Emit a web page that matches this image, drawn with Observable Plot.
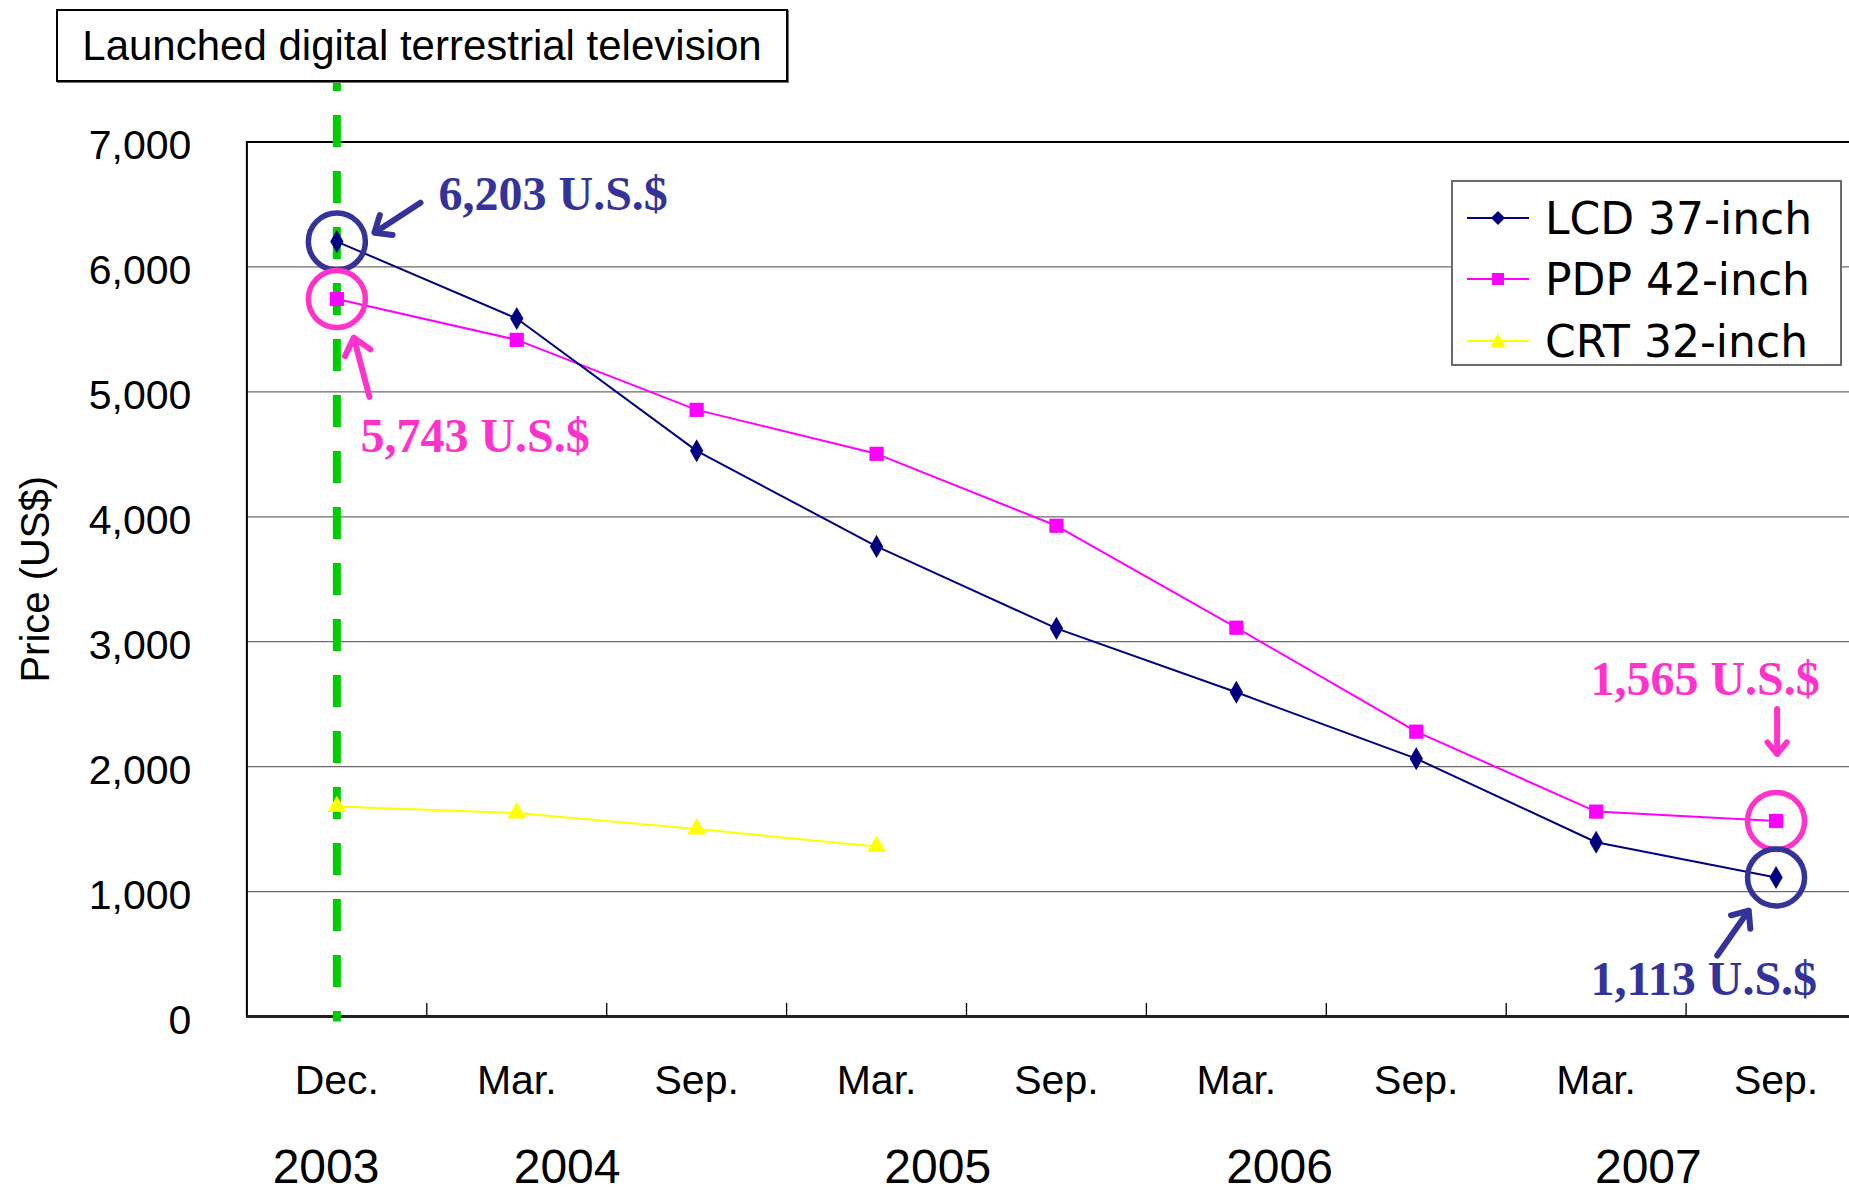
<!DOCTYPE html>
<html>
<head>
<meta charset="utf-8">
<script src="https://cdn.jsdelivr.net/npm/d3@7"></script>
<script src="https://cdn.jsdelivr.net/npm/@observablehq/plot@0.6"></script>
<style>
  html, body { margin: 0; padding: 0; background: #fff; overflow: hidden; }
  #wrap { position: relative; width: 1849px; height: 1190px; font-family: "Liberation Sans", Arial, sans-serif; }
  #chart { position: absolute; left: 0; top: 0; }
  #title {
    position: absolute; left: 56px; top: 9px; width: 728px; height: 69px;
    border: 2px solid #000; background: #fff; box-shadow: 1px 1px 0 #777;
    font-size: 42px; line-height: 69px; text-align: center; color: #000;
    font-family: "Liberation Sans", Arial, sans-serif; white-space: nowrap;
  }
  #legend {
    position: absolute; left: 1451px; top: 180px; width: 387px; height: 182px;
    border: 2px solid #6a6a6a; background: #fff;
  }
  .row { position: absolute; left: 0; height: 60px; display: flex; align-items: center; }
  .row svg { margin-left: 14px; }
  .row span { margin-left: 16px; font-family: "DejaVu Sans", sans-serif; font-size: 44px; color: #000; white-space: nowrap; }
</style>
</head>
<body>
<div id="wrap">
  <div id="chart"></div>
  <div id="title">Launched digital terrestrial television</div>
  <div id="legend"></div>
</div>
<script>
// ---- data ----
const months = ["Dec.", "Mar.", "Sep.", "Mar.", "Sep.", "Mar.", "Sep.", "Mar.", "Sep."];
const years = ["2003", "2004", "2005", "2006", "2007"];
const yearPos = [-0.06, 1.28, 3.34, 5.24, 7.29];
const lcd = [6203, 5587, 4528, 3763, 3107, 2595, 2064, 1395, 1113];
const pdp = [5743, 5416, 4856, 4504, 3928, 3112, 2280, 1640, 1565];
const crt = [1680, 1629, 1501, 1360];
const yTicks = [0, 1000, 2000, 3000, 4000, 5000, 6000, 7000];
const gridVals = [1000, 2000, 3000, 4000, 5000, 6000];
const seriesNames = ["LCD 37-inch", "PDP 42-inch", "CRT 32-inch"];

// annotation callouts (label text, label anchor, arrow tail/tip in data units)
const noteText = ["6,203 U.S.$", "5,743 U.S.$", "1,565 U.S.$", "1,113 U.S.$"];
const noteX = [0.565, 0.131, 6.968, 6.968];
const noteY = [6576, 4640, 2696, 296];
const arrowX1 = [0.465, 0.181, 8.006, 7.673];
const arrowY1 = [6514, 4960, 2462, 488];
const arrowX2 = [0.209, 0.094, 8.006, 7.848];
const arrowY2 = [6274, 5434, 2102, 848];

// ---- styling ----
const C_LCD = "#000080", C_PDP = "#ff00ff", C_CRT = "#ffff00";
const C_NOTE_BLUE = "#333399", C_NOTE_PINK = "#ff33cc";
const noteColor = [C_NOTE_BLUE, C_NOTE_PINK, C_NOTE_PINK, C_NOTE_BLUE];

const lcdData = lcd.map((v, i) => ({i, v}));
const pdpData = pdp.map((v, i) => ({i, v}));
const crtData = crt.map((v, i) => ({i, v}));
const notes = noteText.map((t, k) => ({t, x: noteX[k], y: noteY[k], x1: arrowX1[k], y1: arrowY1[k], x2: arrowX2[k], y2: arrowY2[k], c: noteColor[k]}));
const circled = [
  {i: 0, v: lcd[0], c: C_NOTE_BLUE},
  {i: 0, v: pdp[0], c: C_NOTE_PINK},
  {i: 8, v: pdp[8], c: C_NOTE_PINK},
  {i: 8, v: lcd[8], c: C_NOTE_BLUE}
];
const boundaries = d3.range(0.5, months.length - 1, 1);

const W = 1849, H = 1190;
const mL = 246.4, mR = -16.5, mT = 141.5, mB = 174;

const chart = Plot.plot({
  width: W, height: H,
  marginLeft: mL, marginRight: mR, marginTop: mT, marginBottom: mB,
  style: {fontFamily: "'Liberation Sans', Arial, sans-serif", background: "transparent", overflow: "visible"},
  x: {type: "linear", domain: [-0.5, months.length - 0.5], range: [mL, W - mR]},
  y: {domain: [0, 7000], range: [H - mB, mT]},
  marks: [
    Plot.ruleY(gridVals, {stroke: "#6a6a6a", strokeWidth: 1.3}),
    Plot.frame({stroke: "#000", strokeWidth: 2}),
    Plot.ruleY([0], {stroke: "#222", strokeWidth: 3}),
    Plot.ruleX(boundaries, {x: d => d, y1: d => 0, y2: d => 0, insetTop: -13, stroke: "#000", strokeWidth: 1.3}),
    Plot.axisY({ticks: yTicks, tickFormat: d3.format(","), tickSize: 0, tickPadding: 55.5, fontSize: 41, dy: 4, label: null, color: "#000"}),
    Plot.axisX({ticks: d3.range(months.length), tickFormat: i => months[i], tickSize: 0, tickPadding: 48, fontSize: 41, label: null, color: "#000"}),
    Plot.text(years, {x: (d, i) => yearPos[i], frameAnchor: "bottom", lineAnchor: "middle", dy: 151, fontSize: 48, fill: "#000"}),
    Plot.text(["Price (US$)"], {frameAnchor: "left", textAnchor: "middle", lineAnchor: "middle", dx: -211, rotate: -90, fontSize: 40, fill: "#000"}),
    // launch marker
    Plot.ruleX([0], {stroke: "#00cc00", strokeWidth: 8, strokeDasharray: "32,24", insetTop: -82.5, insetBottom: -5.5}),
    // series
    Plot.line(crtData, {x: "i", y: "v", stroke: C_CRT, strokeWidth: 2}),
    Plot.dot(crtData, {x: "i", y: "v", symbol: "triangle", r: 7, fill: C_CRT}),
    Plot.line(pdpData, {x: "i", y: "v", stroke: C_PDP, strokeWidth: 2}),
    Plot.dot(pdpData, {x: "i", y: "v", symbol: "square", r: 8, fill: C_PDP}),
    Plot.line(lcdData, {x: "i", y: "v", stroke: C_LCD, strokeWidth: 2}),
    Plot.dot(lcdData, {x: "i", y: "v", symbol: "diamond", r: 7, fill: C_LCD}),
    // callouts
    Plot.dot(circled, {x: "i", y: "v", r: 28.5, stroke: "c", strokeWidth: 5.5, fill: "none"}),
    Plot.arrow(notes, {x1: "x1", y1: "y1", x2: "x2", y2: "y2", stroke: "c", strokeWidth: 6, headLength: 7, headAngle: 80}),
    Plot.text(notes, {x: "x", y: "y", text: "t", fill: "c", textAnchor: "start", fontSize: 48, fontWeight: "bold", fontFamily: "'Liberation Serif', 'Times New Roman', serif"})
  ]
});
document.getElementById("chart").appendChild(chart);

// legend (HTML)
const legend = document.getElementById("legend");
const legendSpec = [
  {name: seriesNames[0], color: C_LCD, shape: "diamond"},
  {name: seriesNames[1], color: C_PDP, shape: "square"},
  {name: seriesNames[2], color: C_CRT, shape: "triangle"}
];
const rowCenters = [36, 97, 159];
legendSpec.forEach((s, k) => {
  const row = document.createElement("div");
  row.className = "row";
  row.style.top = (rowCenters[k] - 30) + "px";
  let marker;
  if (s.shape === "diamond") marker = `<path d="M31,4 L38,11 L31,18 L24,11 Z" fill="${s.color}"/>`;
  else if (s.shape === "square") marker = `<rect x="25" y="5" width="12" height="12" fill="${s.color}"/>`;
  else marker = `<path d="M31,3 L38.5,17 L23.5,17 Z" fill="${s.color}"/>`;
  row.innerHTML = `<svg width="62" height="22"><line x1="0" y1="11" x2="62" y2="11" stroke="${s.color}" stroke-width="2"/>${marker}</svg><span>${s.name}</span>`;
  legend.appendChild(row);
});
</script>
</body>
</html>
